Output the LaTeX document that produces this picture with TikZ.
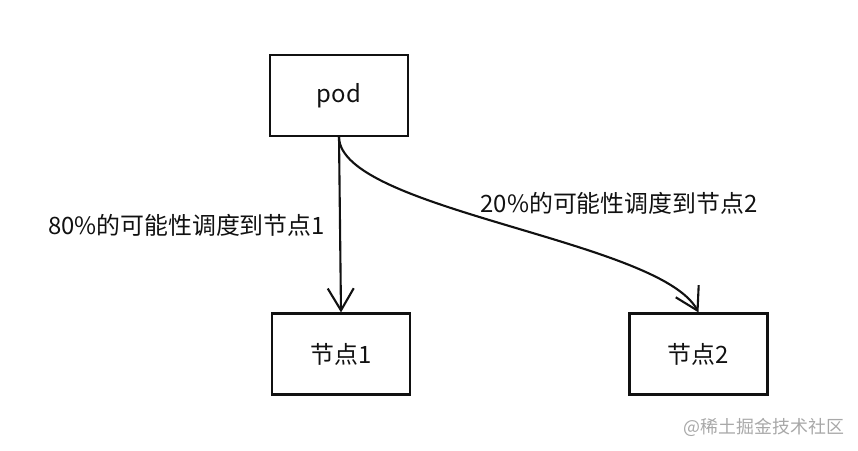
\documentclass[tikz,border=0pt]{standalone}
\usepackage{fontspec}
\setmainfont{Noto Sans CJK SC}
\usetikzlibrary{arrows.meta, positioning}
\definecolor{tinta}{HTML}{111111}
\definecolor{marca}{HTML}{A8A8A8}
\tikzset{
  every picture/.style={font=\fontsize{6.8}{8}\selectfont, line width=0.6pt},
  caja/.style={draw=tinta, text=tinta, minimum width=1.38cm, minimum height=0.81cm, inner sep=0pt},
  flecha/.style={-{Straight Barb[length=0.22cm, width=0.26cm]}, tinta},
  etiqueta/.style={text=tinta, inner sep=0pt},
  sello/.style={text=marca, font=\fontsize{5.1}{6}\selectfont, inner sep=0pt},
}
\begin{document}
\begin{tikzpicture}
  \useasboundingbox (0,0) rectangle (8.58,4.5);
  \node[caja] (pod) at (3.39,3.545) {pod};
  \node[caja] (n1) at (3.41,0.96) {节点1};
  \node[caja] (n2) at (6.985,0.96) {节点2};
  \node[etiqueta] (e1) at (1.865,2.25) {80\%的可能性调度到节点1};
  \node[etiqueta] (e2) at (6.19,2.47) {20\%的可能性调度到节点2};
  \node[sello] (wm) at (7.64,0.23) {@稀土掘金技术社区};
  \draw[flecha] (pod.south) -- (n1.north);
  \draw[flecha] (pod.south) .. controls (3.40,2.40) and (6.60,2.10) .. (n2.north);
\end{tikzpicture}
\end{document}
